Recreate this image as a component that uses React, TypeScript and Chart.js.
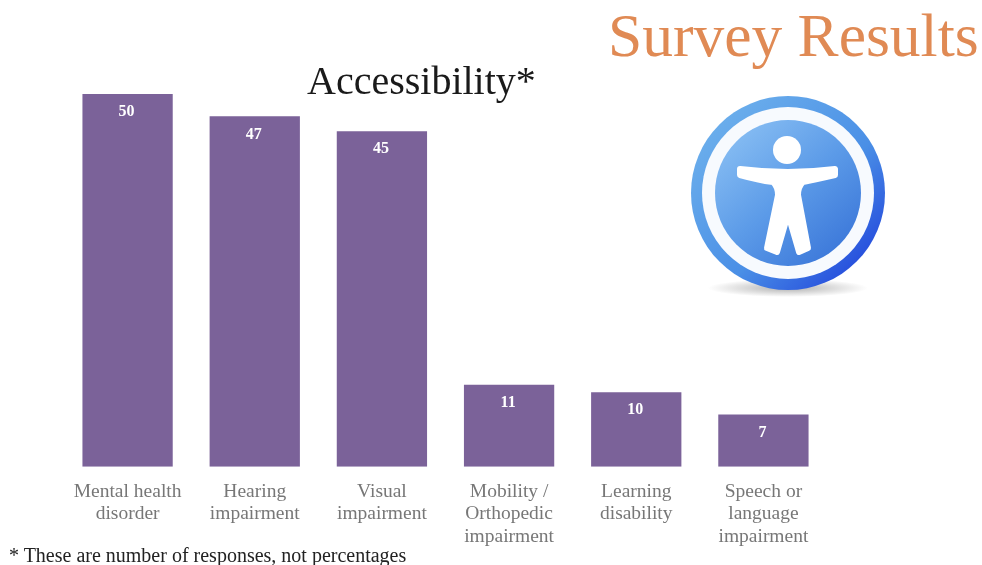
import React, { useEffect, useRef } from "react";
import { Chart, registerables } from "chart.js";

Chart.register(...registerables);

const categories = [
  ["Mental health", "disorder"],
  ["Hearing", "impairment"],
  ["Visual", "impairment"],
  ["Mobility /", "Orthopedic", "impairment"],
  ["Learning", "disability"],
  ["Speech or", "language", "impairment"],
];
const responses = [50, 47, 45, 11, 10, 7];
const FONT = '"Liberation Serif", serif';

const labelPlugin = {
  id: "valueLabels",
  afterDatasetsDraw(chart: any) {
    const ctx = chart.ctx;
    ctx.save();
    ctx.fillStyle = "#ffffff";
    ctx.font = `bold 16px ${FONT}`;
    ctx.textAlign = "center";
    ctx.textBaseline = "middle";
    chart.getDatasetMeta(0).data.forEach((bar: any, i: number) => {
      ctx.fillText(String(responses[i]), bar.x - 1, bar.y + 18);
    });
    ctx.restore();
  },
};

export default function App() {
  const ref = useRef<HTMLCanvasElement>(null);
  useEffect(() => {
    const chart = new Chart(ref.current!, {
      type: "bar",
      data: {
        labels: categories,
        datasets: [
          {
            data: responses,
            backgroundColor: "#7b6299",
            categoryPercentage: 1,
            barPercentage: 0.71,
          },
        ],
      },
      plugins: [labelPlugin],
      options: {
        animation: false,
        responsive: false,
        layout: { padding: { left: 64, right: 155, top: 94, bottom: 0 } },
        plugins: { legend: { display: false }, tooltip: { enabled: false } },
        scales: {
          x: {
            grid: { display: false },
            border: { display: false },
            ticks: {
              color: "#777777",
              font: { family: FONT, size: 19.5, lineHeight: 1.15 },
              maxRotation: 0,
              autoSkip: false,
              padding: 6,
            },
          },
          y: { display: false, min: 0, max: 50 },
        },
      },
    });
    return () => chart.destroy();
  }, []);

  const text = (s: React.CSSProperties) => ({
    position: "absolute" as const,
    fontFamily: FONT,
    whiteSpace: "nowrap" as const,
    lineHeight: 1,
    ...s,
  });

  return (
    <div style={{ position: "fixed", left: 0, top: 0, width: 982, height: 565, background: "#fff", overflow: "hidden" }}>
      <canvas ref={ref} width={982} height={554} style={{ position: "absolute", left: 0, top: 0 }} />
      <div style={text({ left: 608, top: 5, fontSize: 61.5, color: "#e08a54" })}>Survey Results</div>
      <div style={text({ left: 307, top: 61, fontSize: 40, color: "#1a1a1a" })}>Accessibility*</div>
      <div style={text({ left: 9, top: 545, fontSize: 20, color: "#222" })}>* These are number of responses, not percentages</div>
      <svg width={200} height={210} style={{ position: "absolute", left: 688, top: 95 }}>
        <defs>
          <linearGradient id="ring" x1="0.1" y1="0.1" x2="0.9" y2="0.9">
            <stop offset="0" stopColor="#6db0ec" />
            <stop offset="0.6" stopColor="#4a8fe6" />
            <stop offset="1" stopColor="#2348dc" />
          </linearGradient>
          <linearGradient id="inner" x1="0.15" y1="0.1" x2="0.85" y2="0.9">
            <stop offset="0" stopColor="#84bbf2" />
            <stop offset="0.5" stopColor="#5c9be8" />
            <stop offset="1" stopColor="#3d79da" />
          </linearGradient>
          <radialGradient id="shadow">
            <stop offset="0" stopColor="#b0b0b0" />
            <stop offset="1" stopColor="#ffffff" />
          </radialGradient>
        </defs>
        <ellipse cx={100} cy={193} rx={80} ry={9} fill="url(#shadow)" />
        <circle cx={100} cy={98} r={97} fill="url(#ring)" />
        <circle cx={100} cy={98} r={86} fill="#f7fafe" />
        <circle cx={100} cy={98} r={73} fill="url(#inner)" />
        <circle cx={99} cy={55} r={14} fill="#fff" />
        <path
          d="M52 74 Q100 80 147 74 L147 80 Q125 85 115 87 Q110 92 110 100 L120 153 L111 157 L100 119 L89 157 L79 153 L90 100 Q90 92 85 87 Q70 85 52 80 Z"
          fill="#fff"
          stroke="#fff"
          strokeWidth={6}
          strokeLinejoin="round"
        />
      </svg>
    </div>
  );
}
